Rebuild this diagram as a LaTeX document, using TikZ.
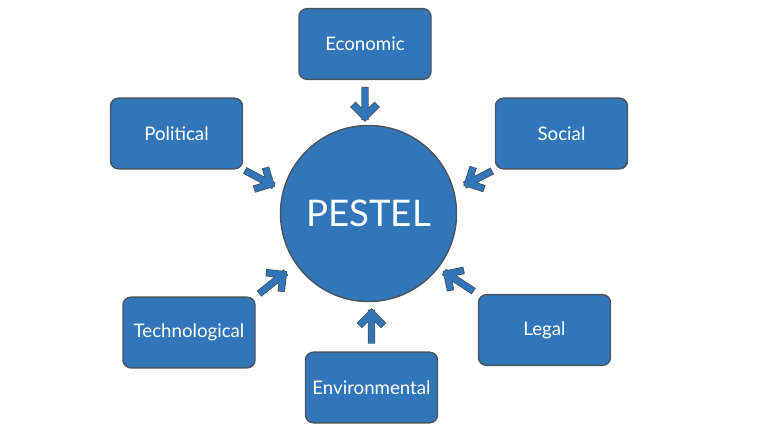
\documentclass[tikz,border=0pt]{standalone}
\usepackage{fontspec}
\setmainfont{Lato}
\usepackage{xcolor}
\usetikzlibrary{shapes,arrows,positioning,calc,arrows.meta}
\definecolor{pblue}{RGB}{50,118,186}
\definecolor{pedge}{RGB}{72,84,96}

\begin{document}
\begin{tikzpicture}[x=0.75pt,y=-0.75pt,
    factor/.style={draw=pedge,line width=1.1pt,fill=pblue,rounded corners=6pt,minimum width=99pt,minimum height=53pt,text=white,font=\fontsize{14}{16}\selectfont},
    hub/.style={circle,draw=pedge,line width=1.1pt,fill=pblue,minimum size=132pt,text=white,font=\fontsize{27.5}{32}\selectfont},
    push/.style 2 args={draw=pedge,line width=0.6pt,double=pblue,double distance=4.4pt,line join=miter,line cap=rect,
      to path={($(\tikztostart)!#1!(\tikztotarget)$) coordinate (t1)
        ($(\tikztotarget)!#2!(\tikztostart)$) coordinate (t2)
        (t1) -- (t2)
        ($(t2)!7.2pt!(t1)$) coordinate (hb)
        ($(hb)!7.2pt!90:(t2)$) -- (t2) -- ($(hb)!7.2pt!-90:(t2)$)}}]
    \useasboundingbox (0,0) rectangle (760,430);

    % Centre
    \node[hub] (pestel) at (368.5,213.5) {PESTEL};

    % Factors
    \node[factor] (eco) at (365,44) {Economic};
    \node[factor] (pol) at (176.5,133.5) {Political};
    \node[factor] (soc) at (561.5,133.5) {Social};
    \node[factor] (tec) at (189,332.5) {Technological};
    \node[factor] (leg) at (544.5,330) {Legal};
    \node[factor] (env) at (371.5,387.5) {Environmental};

    % Arrows
    \draw[push={7.9pt}{6.2pt}] (eco.south) to (eco.south |- pestel.north);
    \draw[push={8.6pt}{8.4pt}] (env.north) to (env.north |- pestel.south);
    \draw[push={4.1pt}{10.4pt}] (pol.south east) to (pestel.165);
    \draw[push={4.9pt}{11.6pt}] (soc.south west) to (pestel.15);
    \draw[push={6pt}{12.2pt}] (tec.north east) to (pestel.215);
    \draw[push={6.4pt}{7.8pt}] (leg.north west) to (pestel.322);
\end{tikzpicture}
\end{document}
